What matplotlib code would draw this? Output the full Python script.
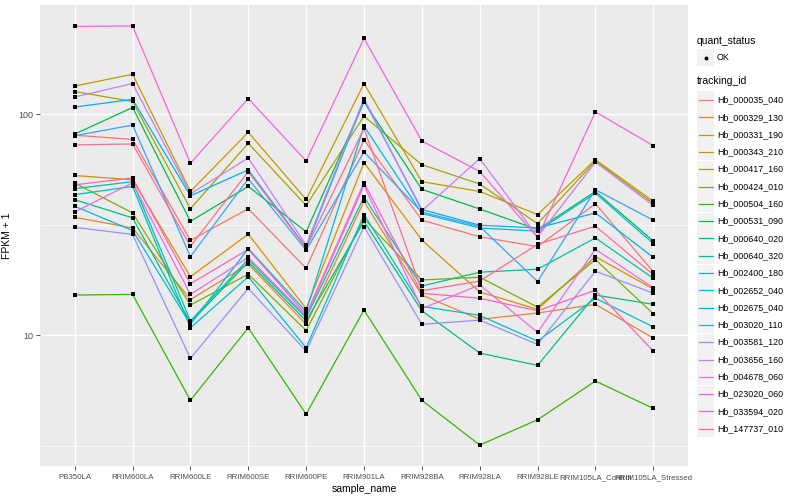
import numpy as np
import matplotlib
matplotlib.use("Agg")
from matplotlib import pyplot as plt
from matplotlib.ticker import FixedLocator, NullFormatter
from matplotlib.patches import Rectangle
from matplotlib.lines import Line2D

samples = ["PB350LA", "RRIM600LA", "RRIM600LE", "RRIM600SE", "RRIM600PE", "RRIM901LA",
           "RRIM928BA", "RRIM928LA", "RRIM928LE", "RRIM105LA_Control", "RRIM105LA_Stressed"]

tracking_ids = ["Hb_000035_040", "Hb_000329_130", "Hb_000331_190", "Hb_000343_210",
                "Hb_000417_160", "Hb_000424_010", "Hb_000504_160", "Hb_000531_090",
                "Hb_000640_020", "Hb_000640_320", "Hb_002400_180", "Hb_002652_040",
                "Hb_002675_040", "Hb_003020_110", "Hb_003581_120", "Hb_003656_160",
                "Hb_004678_060", "Hb_023020_060", "Hb_033594_020", "Hb_147737_010"]

# ggplot default hue palette, 20 levels
hue_colors = ["#F8766D", "#EA8331", "#D89000", "#C09B00", "#A3A500", "#7CAE00", "#39B600",
              "#00BB4E", "#00BF7D", "#00C1A3", "#00BFC4", "#00BAE0", "#00B0F6", "#35A2FF",
              "#9590FF", "#C77CFF", "#E76BF3", "#FA62DB", "#FF62BC", "#FF6C91"]

# FPKM + 1, one list per tracking_id, in sample order
hb_000035_040 = [80.5, 77.1, 26.9, 37.4, 20.1, 76.6, 33.2, 27.9, 25.2, 39.4, 19.4]
hb_000329_130 = [34.2, 30.6, 14.5, 21.0, 11.2, 40.4, 15.2, 11.8, 12.6, 13.8, 9.7]
hb_000331_190 = [52.9, 50.6, 18.4, 28.7, 13.2, 60.5, 27.0, 15.7, 13.1, 22.7, 16.2]
hb_000343_210 = [134.5, 152, 44.8, 83, 41.2, 138, 49.6, 44.8, 35.2, 62.4, 40.4]
hb_000417_160 = [127, 114.5, 37.4, 74, 38.7, 98.2, 59.2, 48.4, 32.0, 61.6, 39.5]
hb_000424_010 = [48.9, 35.8, 13.7, 18.9, 10.5, 33.7, 17.8, 18.3, 13.4, 22.0, 12.5]
hb_000504_160 = [15.2, 15.3, 5.07, 10.8, 4.39, 13.0, 5.07, 3.18, 4.14, 6.2, 4.66]
hb_000531_090 = [81.5, 107.5, 32.8, 47.2, 29.4, 114, 45.8, 37.3, 30.1, 44.8, 26.7]
hb_000640_020 = [41.1, 34.0, 11.4, 21.5, 11.6, 32.8, 12.9, 8.3, 7.3, 15.2, 13.8]
hb_000640_320 = [46.1, 49.6, 11.6, 22.1, 12.0, 42.3, 16.7, 19.3, 19.9, 27.6, 18.1]
hb_002400_180 = [43.3, 47.2, 10.8, 18.4, 8.77, 35.2, 13.5, 12.3, 9.4, 14.7, 10.9]
hb_002652_040 = [38.4, 29.8, 11.2, 24.7, 12.8, 88.5, 35.6, 30.6, 29.6, 44.0, 26.0]
hb_002675_040 = [108, 117, 42.8, 56.1, 25.0, 116, 37.1, 31.5, 30.6, 35.8, 22.5]
hb_003020_110 = [80.1, 89.5, 22.7, 51.1, 24.3, 67.6, 36.1, 31.1, 17.5, 45.6, 33.2]
hb_003581_120 = [30.8, 28.6, 7.85, 16.3, 8.47, 31.0, 11.2, 11.7, 9.08, 19.5, 15.5]
hb_003656_160 = [120, 138, 43.7, 63.5, 25.6, 118, 36.6, 63.1, 27.9, 60.8, 38.7]
hb_004678_060 = [36.2, 49.0, 15.3, 22.5, 12.2, 47.7, 13.2, 16.9, 10.3, 24.5, 16.4]
hb_023020_060 = [250.6, 251.7, 60.1, 118, 61.6, 221, 75.8, 55.1, 27.7, 102.7, 72.2]
hb_033594_020 = [48.0, 51.6, 17.1, 24.5, 12.4, 49.1, 15.5, 14.7, 12.9, 16.0, 8.47]
hb_147737_010 = [72.8, 73.5, 25.3, 55, 24.8, 86.4, 15.9, 17.6, 25.8, 31.2, 18.8]

series = [hb_000035_040, hb_000329_130, hb_000331_190, hb_000343_210, hb_000417_160,
          hb_000424_010, hb_000504_160, hb_000531_090, hb_000640_020, hb_000640_320,
          hb_002400_180, hb_002652_040, hb_002675_040, hb_003020_110, hb_003581_120,
          hb_003656_160, hb_004678_060, hb_023020_060, hb_033594_020, hb_147737_010]

plt.rcParams['font.family'] = ['Liberation Sans', 'DejaVu Sans']

W, H = 800, 500
fig = plt.figure(figsize=(8, 5), dpi=100)
fig.patch.set_facecolor("white")

# panel in pixels: x 40..688, y 5..466
ax = fig.add_axes([40 / W, 1 - 466 / H, (688 - 40) / W, (466 - 5) / H])
ax.set_facecolor("#EBEBEB")
for s in ax.spines.values():
    s.set_visible(False)

x = np.arange(1, len(samples) + 1)
for vals, col in zip(series, hue_colors):
    ax.plot(x, vals, color=col, lw=0.9, zorder=2)
for vals in series:
    ax.plot(x, vals, ls="none", marker="s", ms=2.9, mew=0, color="black", zorder=3)

ax.set_yscale("log")
allv = np.log10(np.concatenate([np.array(v) for v in series]))
lo, hi = allv.min(), allv.max()
pad = (hi - lo) * 0.05
ax.set_ylim(10 ** (lo - pad), 10 ** (hi + pad))
ax.set_xlim(0.4, len(samples) + 0.6)

ax.yaxis.set_major_locator(FixedLocator([10, 100]))
ax.yaxis.set_minor_locator(FixedLocator([10 ** 0.5, 10 ** 1.5, 10 ** 2.5]))
ax.yaxis.set_minor_formatter(NullFormatter())
ax.set_yticklabels(["10", "100"])
ax.set_xticks(x)
ax.set_xticklabels(samples)

ax.grid(which="major", color="white", lw=1.0)
ax.grid(which="minor", axis="y", color="white", lw=0.5)
ax.set_axisbelow(True)
ax.tick_params(which="major", length=3, width=0.6, color="#333333",
               labelcolor="#4D4D4D", labelsize=6.5, pad=2)
ax.tick_params(axis="x", which="major", labelsize=5.7, pad=3)
ax.tick_params(which="minor", length=0)

ax.set_xlabel("sample_name", fontsize=7.5, color="black", labelpad=2)
ax.set_ylabel("FPKM + 1", fontsize=7.5, color="black", labelpad=4)


def fx(px):
    return px / W


def fy(py):
    return 1 - py / H


# legend: quant_status
fig.text(fx(697), fy(41), "quant_status", fontsize=7.5, va="center", ha="left")
fig.add_artist(Rectangle((fx(697), fy(66)), 17 / W, 17 / H, transform=fig.transFigure,
                         facecolor="#F2F2F2", edgecolor="none"))
fig.add_artist(Line2D([fx(705.5)], [fy(57.5)], transform=fig.transFigure, marker="o",
                      ms=2.8, mew=0, color="black", ls="none"))
fig.text(fx(717), fy(57.5), "OK", fontsize=6.4, va="center", ha="left", color="black")

# legend: tracking_id
fig.text(fx(697), fy(81), "tracking_id", fontsize=7.5, va="center", ha="left")
for i, (tid, col) in enumerate(zip(tracking_ids, hue_colors)):
    cy = 100 + i * 17.3
    fig.add_artist(Rectangle((fx(697), fy(cy + 8.5)), 17 / W, 17 / H,
                             transform=fig.transFigure, facecolor="#F2F2F2",
                             edgecolor="none"))
    fig.add_artist(Line2D([fx(699), fx(713)], [fy(cy), fy(cy)], transform=fig.transFigure,
                          color=col, lw=0.9))
    fig.text(fx(717), fy(cy), tid, fontsize=6.4, va="center", ha="left", color="black")

fig.savefig("out.png", dpi=100)
